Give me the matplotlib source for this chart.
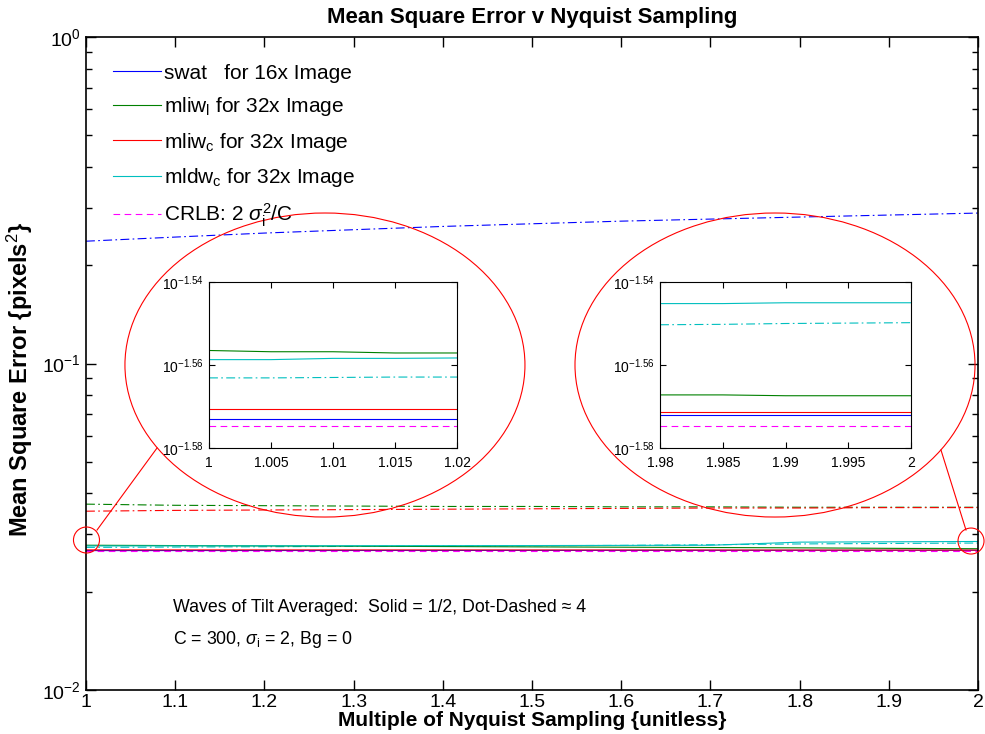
import numpy as np
import matplotlib
matplotlib.use('Agg')
import matplotlib.pyplot as plt
from matplotlib.patches import Ellipse
from matplotlib.lines import Line2D
from matplotlib.ticker import FixedLocator, FixedFormatter, LogLocator, NullFormatter

plt.rcParams['font.family'] = ['Liberation Sans', 'DejaVu Sans']
plt.rcParams['mathtext.fontset'] = 'custom'
plt.rcParams['mathtext.rm'] = 'Liberation Sans'
plt.rcParams['mathtext.it'] = 'Liberation Sans:italic'
plt.rcParams['mathtext.bf'] = 'Liberation Sans:bold'

# main chart, x = multiple of Nyquist sampling
x_main = [1.0, 1.1, 1.2, 1.3, 1.4, 1.5, 1.6, 1.7, 1.8, 1.9, 2.0]

# solid lines (1/2 wave of tilt), given as log10 of MSE
swat_solid = [-1.5729, -1.5728, -1.5727, -1.5726, -1.5725, -1.5724, -1.5723, -1.5722, -1.5721, -1.5720, -1.5720]
mliwl_solid = [-1.5565, -1.5575, -1.5585, -1.5595, -1.5605, -1.5615, -1.5625, -1.5635, -1.5645, -1.5660, -1.5672]
mliwc_solid = [-1.5707, -1.5708, -1.5708, -1.5709, -1.5709, -1.5710, -1.5710, -1.5711, -1.5712, -1.5713, -1.5713]
mldwc_solid = [-1.5587, -1.5585, -1.5583, -1.5580, -1.5578, -1.5575, -1.5570, -1.5565, -1.5470, -1.5460, -1.5450]
crlb = [-1.5747, -1.5747, -1.5747, -1.5747, -1.5747, -1.5747, -1.5747, -1.5747, -1.5747, -1.5747, -1.5747]

# dot-dashed lines (~4 waves of tilt), MSE
swat_dd = [0.237, 0.244, 0.251, 0.257, 0.263, 0.268, 0.273, 0.277, 0.281, 0.285, 0.289]
mliwl_dd = [0.0371, 0.0368, 0.0367, 0.0366, 0.0365, 0.0365, 0.0364, 0.0364, 0.0363, 0.0363, 0.0363]
mliwc_dd = [0.0353, 0.0355, 0.0356, 0.0357, 0.0358, 0.0359, 0.0360, 0.0361, 0.0361, 0.0362, 0.0362]
mldwc_dd = [-1.5631, -1.5620, -1.5610, -1.5600, -1.5590, -1.5580, -1.5570, -1.5550, -1.5525, -1.5510, -1.5498]

# zoomed insets (log10 of MSE)
x_left = [1.0, 1.005, 1.01, 1.015, 1.02]
left_mliwl = [-1.5565, -1.5568, -1.5568, -1.5571, -1.5571]
left_mldwc = [-1.5587, -1.5587, -1.5584, -1.5584, -1.5583]
left_mldwc_dd = [-1.5631, -1.5631, -1.5630, -1.5629, -1.5629]
left_mliwc = [-1.5707, -1.5707, -1.5707, -1.5707, -1.5707]
left_swat = [-1.5729, -1.5729, -1.5729, -1.5729, -1.5729]
left_crlb = [-1.5747, -1.5747, -1.5747, -1.5747, -1.5747]

x_right = [1.98, 1.985, 1.99, 1.995, 2.0]
right_mldwc = [-1.5452, -1.5452, -1.5450, -1.5450, -1.5450]
right_mldwc_dd = [-1.5503, -1.5502, -1.5500, -1.5499, -1.5498]
right_mliwl = [-1.5672, -1.5672, -1.5674, -1.5674, -1.5674]
right_mliwc = [-1.5713, -1.5713, -1.5713, -1.5713, -1.5713]
right_swat = [-1.5720, -1.5720, -1.5720, -1.5720, -1.5720]
right_crlb = [-1.5747, -1.5747, -1.5747, -1.5747, -1.5747]

x_ticks = [1.0, 1.1, 1.2, 1.3, 1.4, 1.5, 1.6, 1.7, 1.8, 1.9, 2.0]
x_ticklabels = ['1', '1.1', '1.2', '1.3', '1.4', '1.5', '1.6', '1.7', '1.8', '1.9', '2']
inset_yticks = [-1.58, -1.56, -1.54]
inset_yticklabels = [r'$10^{-1.58}$', r'$10^{-1.56}$', r'$10^{-1.54}$']
left_xticklabels = ['1', '1.005', '1.01', '1.015', '1.02']
right_xticklabels = ['1.98', '1.985', '1.99', '1.995', '2']

c_blue, c_green, c_red, c_cyan, c_mag = '#0000ff', '#008000', '#ff0000', '#00bfbf', '#ff00ff'
dd = (0, (8, 3, 1.5, 3))
lw = 0.8

def p10(v):
    return 10 ** np.array(v)

fig = plt.figure(figsize=(9.85, 7.34), dpi=100)
ax = fig.add_axes([0.0873, 0.0599, 0.9056, 0.8896])

ax.plot(x_main, swat_dd, color=c_blue, lw=lw, ls=dd)
ax.plot(x_main, mliwl_dd, color=c_green, lw=lw, ls=dd)
ax.plot(x_main, mliwc_dd, color=c_red, lw=lw, ls=dd)
ax.plot(x_main, p10(mldwc_dd), color=c_cyan, lw=lw, ls=dd)
ax.plot(x_main, p10(swat_solid), color=c_blue, lw=lw, label='swat   for 16x Image')
ax.plot(x_main, p10(mliwl_solid), color=c_green, lw=lw, label=r'mliw$_\mathrm{l}$ for 32x Image')
ax.plot(x_main, p10(mliwc_solid), color=c_red, lw=lw, label=r'mliw$_\mathrm{c}$ for 32x Image')
ax.plot(x_main, p10(mldwc_solid), color=c_cyan, lw=lw, label=r'mldw$_\mathrm{c}$ for 32x Image')
ax.plot(x_main, p10(crlb), color=c_mag, lw=lw, ls=(0, (6, 4)), label=r'CRLB: 2 $\sigma_\mathrm{i}^2$/C')

ax.set_yscale('log')
ax.set_xlim(1, 2)
ax.set_ylim(1e-2, 1)
ax.set_xticks(x_ticks)
ax.set_xticklabels(x_ticklabels)
ax.yaxis.set_minor_locator(LogLocator(base=10, subs=np.arange(2, 10)))
ax.yaxis.set_minor_formatter(NullFormatter())
ax.tick_params(which='both', direction='in', top=True, right=True, labelsize=14, width=1)
ax.tick_params(axis='x', pad=3)
ax.tick_params(which='major', length=7)
ax.tick_params(which='minor', length=4)
for s in ax.spines.values():
    s.set_linewidth(1.2)

ax.set_title('Mean Square Error v Nyquist Sampling', fontsize=16, fontweight='bold', pad=10)
ax.set_xlabel('Multiple of Nyquist Sampling {unitless}', fontsize=15, fontweight='bold', labelpad=0)
ax.set_ylabel(r'Mean Square Error {pixels$^2$}', fontsize=17, fontweight='bold')
ax.yaxis.set_label_coords(-0.057, 0.475)

ax.legend(loc='upper left', bbox_to_anchor=(0.021, 0.972), frameon=False, fontsize=15,
          handlelength=2.3, handletextpad=0.15, labelspacing=0.6, borderaxespad=0)

ax.text(0.098, 0.119, u'Waves of Tilt Averaged:  Solid = 1/2, Dot-Dashed \u2248 4',
        transform=ax.transAxes, fontsize=12.8, va='baseline')
ax.text(0.098, 0.094, r'C = 300, $\sigma_\mathrm{i}$ = 2, Bg = 0',
        transform=ax.transAxes, fontsize=12.8, va='top')

# callout ellipses and markers (figure fraction)
tf = fig.transFigure
ax.add_patch(Ellipse((0.3299, 0.5027), 0.4061, 0.4142, transform=tf, fill=False, ec=c_red, lw=0.8, clip_on=False, zorder=5))
ax.add_patch(Ellipse((0.7868, 0.5027), 0.4061, 0.4142, transform=tf, fill=False, ec=c_red, lw=0.8, clip_on=False, zorder=5))
ax.add_patch(Ellipse((0.0878, 0.2643), 0.0264, 0.0354, transform=tf, fill=False, ec=c_red, lw=0.8, clip_on=False, zorder=5))
ax.add_patch(Ellipse((0.9858, 0.2629), 0.0264, 0.0354, transform=tf, fill=False, ec=c_red, lw=0.8, clip_on=False, zorder=5))
ax.add_line(Line2D([0.0985, 0.1594], [0.2779, 0.3896], transform=tf, color=c_red, lw=0.8, clip_on=False, zorder=5))
ax.add_line(Line2D([0.9807, 0.9553], [0.2779, 0.3869], transform=tf, color=c_red, lw=0.8, clip_on=False, zorder=5))

def inset(rect, xs, mliwl, mldwc, mldwc_dd, mliwc, swat, crl, xlabels):
    a = fig.add_axes(rect)
    a.set_facecolor('white')
    a.plot(xs, mliwl, color=c_green, lw=lw)
    a.plot(xs, mldwc, color=c_cyan, lw=lw)
    a.plot(xs, mldwc_dd, color=c_cyan, lw=lw, ls=dd)
    a.plot(xs, mliwc, color=c_red, lw=lw)
    a.plot(xs, swat, color=c_blue, lw=lw)
    a.plot(xs, crl, color=c_mag, lw=lw, ls=(0, (6, 4)))
    a.set_xlim(xs[0], xs[-1])
    a.set_ylim(-1.58, -1.54)
    a.set_xticks(xs)
    a.set_xticklabels(xlabels)
    a.yaxis.set_major_locator(FixedLocator(inset_yticks))
    a.yaxis.set_major_formatter(FixedFormatter(inset_yticklabels))
    a.tick_params(direction='in', top=True, right=True, labelsize=10, length=4)
    a.tick_params(axis='x', pad=6)
    for s in a.spines.values():
        s.set_linewidth(0.8)
    return a

inset([0.2122, 0.3896, 0.2518, 0.2262], x_left, left_mliwl, left_mldwc, left_mldwc_dd,
      left_mliwc, left_swat, left_crlb, left_xticklabels)
inset([0.6701, 0.3896, 0.2548, 0.2262], x_right, right_mliwl, right_mldwc, right_mldwc_dd,
      right_mliwc, right_swat, right_crlb, right_xticklabels)

fig.savefig('out.png', dpi=100)
